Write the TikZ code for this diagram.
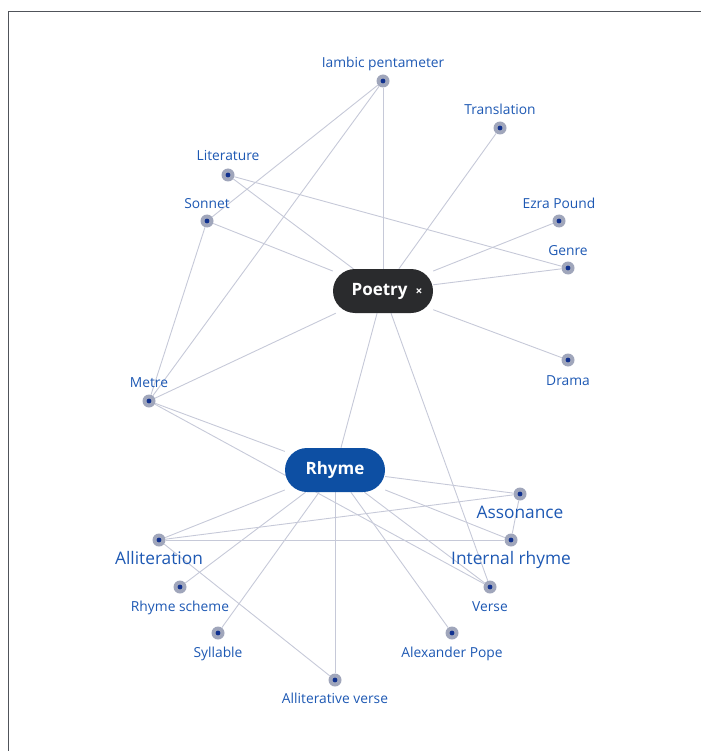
\documentclass[tikz,border=0pt]{standalone}
\usepackage{fontspec}
\setmainfont{Open Sans}
\usetikzlibrary{backgrounds}
\definecolor{edgec}{HTML}{C6C9D8}
\definecolor{ringc}{HTML}{A0A6BB}
\definecolor{dotc}{HTML}{10318F}
\definecolor{labc}{HTML}{1D58B3}
\definecolor{poetc}{HTML}{2A2B2D}
\definecolor{rhymec}{HTML}{0D4FA3}
\definecolor{framec}{HTML}{50545A}
\begin{document}
\begin{tikzpicture}[x=1pt,y=-1pt,
  dotnode/.style={circle,fill=ringc,minimum size=13pt,inner sep=0pt,
    path picture={\fill[dotc] (path picture bounding box.center) circle (2.4pt);}},
  lab/.style={text=labc,font=\fontsize{13.8}{16}\selectfont,inner sep=0pt,anchor=base},
  biglab/.style={text=labc,font=\fontsize{17.3}{20}\selectfont,inner sep=0pt,anchor=base},
  pill/.style={rectangle,rounded corners=22pt,minimum width=100pt,minimum height=44pt,
    text=white,font=\fontsize{17}{20}\selectfont\bfseries,inner sep=0pt},
  edge/.style={draw=edgec,line width=0.9pt},
  frame/.style={draw=framec,line width=1.5pt}
]
\useasboundingbox (0,0) rectangle (701,751);
\draw[frame] (8.5,751) -- (8.5,11.5) -- (701,11.5);

% main nodes
\node[pill,fill=poetc] (poetry) at (383,291) {\hspace*{8pt}Poetry\hspace{8pt}{\fontsize{12}{13}\selectfont ×}};
\node[pill,fill=rhymec] (rhyme) at (335,470) {Rhyme};

% dots
\node[dotnode] (iamb) at (383,81) {};
\node[dotnode] (trans) at (500,128) {};
\node[dotnode] (lit) at (228,175) {};
\node[dotnode] (sonnet) at (207,221) {};
\node[dotnode] (ezra) at (559,221) {};
\node[dotnode] (genre) at (568,268) {};
\node[dotnode] (drama) at (568,360) {};
\node[dotnode] (metre) at (149,401) {};
\node[dotnode] (asson) at (520,494) {};
\node[dotnode] (allit) at (159,540) {};
\node[dotnode] (intr) at (511,540) {};
\node[dotnode] (rscheme) at (180,587) {};
\node[dotnode] (verse) at (490,587) {};
\node[dotnode] (syll) at (218,633) {};
\node[dotnode] (pope) at (452,633) {};
\node[dotnode] (allitv) at (335,680) {};

% labels
\node[lab] (liamb) at (383,68) {Iambic pentameter};
\node[lab] (ltrans) at (500,115) {Translation};
\node[lab] (llit) at (228,161) {Literature};
\node[lab] (lsonnet) at (207,208) {Sonnet};
\node[lab] (lezra) at (559,208) {Ezra Pound};
\node[lab] (lgenre) at (568,255) {Genre};
\node[lab] (ldrama) at (568,385) {Drama};
\node[lab] (lmetre) at (149,387) {Metre};
\node[biglab] (lasson) at (520,518) {Assonance};
\node[biglab] (lallit) at (159,564) {Alliteration};
\node[biglab] (lintr) at (511,564) {Internal rhyme};
\node[lab] (lrscheme) at (180,611) {Rhyme scheme};
\node[lab] (lverse) at (490,611) {Verse};
\node[lab] (lsyll) at (218,657) {Syllable};
\node[lab] (lpope) at (452,657) {Alexander Pope};
\node[lab] (lallitv) at (335,703) {Alliterative verse};

\begin{pgfonlayer}{background}
\foreach \t in {iamb,trans,lit,sonnet,ezra,genre,drama,metre,verse}
  \draw[edge] (poetry) -- (\t);
\draw[edge] (poetry) -- (rhyme);
\draw[edge] (iamb) -- (sonnet);
\draw[edge] (iamb) -- (metre);
\draw[edge] (sonnet) -- (metre);
\draw[edge] (lit) -- (genre);
\draw[edge] (metre) -- (rhyme);
\draw[edge] (metre) -- (verse);
\foreach \t in {asson,intr,verse,allit,rscheme,syll,allitv,pope}
  \draw[edge] (rhyme) -- (\t);
\draw[edge] (allit) -- (asson);
\draw[edge] (allit) -- (intr);
\draw[edge] (allit) -- (allitv);
\draw[edge] (asson) -- (intr);
\end{pgfonlayer}
\end{tikzpicture}
\end{document}
